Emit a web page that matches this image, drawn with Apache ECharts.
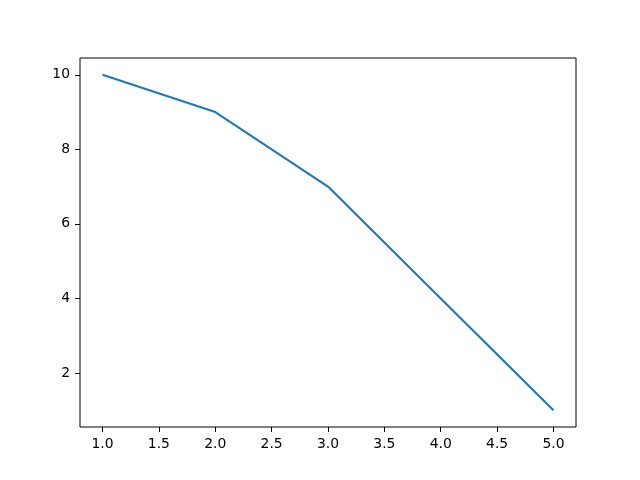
<!DOCTYPE html>
<html>
<head>
<meta charset="utf-8">
<script src="https://cdn.jsdelivr.net/npm/echarts@6/dist/echarts.min.js"></script>
<style>html,body{margin:0;padding:0;background:#fff;}#c{width:640px;height:480px;}</style>
</head>
<body>
<div id="c"></div>
<script>
const xValues = [1, 2, 3, 4, 5];
const yValues = [10, 9, 7, 4, 1];
const xTicks = [1.0, 1.5, 2.0, 2.5, 3.0, 3.5, 4.0, 4.5, 5.0];
const yTicks = [2, 4, 6, 8, 10];

const chart = echarts.init(document.getElementById('c'), null, {renderer: 'canvas'});
const font = 'DejaVu Sans';
chart.setOption({
  animation: false,
  backgroundColor: '#ffffff',
  grid: {left: 80, right: 64, top: 58, bottom: 53, show: true, borderColor: '#000', borderWidth: 1, backgroundColor: 'transparent'},
  xAxis: {
    type: 'value', min: 0.8, max: 5.2,
    axisLine: {show: false},
    splitLine: {show: false},
    axisTick: {show: true, inside: false, length: 5, lineStyle: {color: '#000', width: 1}, customValues: xTicks},
    axisLabel: {color: '#000', fontFamily: font, fontSize: 13.9, margin: 10, customValues: xTicks,
      formatter: v => Number(v).toFixed(1)}
  },
  yAxis: {
    type: 'value', min: 0.55, max: 10.45,
    axisLine: {show: false},
    splitLine: {show: false},
    axisTick: {show: true, inside: false, length: 5, lineStyle: {color: '#000', width: 1}, customValues: yTicks},
    axisLabel: {color: '#000', fontFamily: font, fontSize: 13.9, margin: 10, customValues: yTicks,
      formatter: v => String(Math.round(v))}
  },
  series: [{
    type: 'line',
    data: xValues.map((x, i) => [x, yValues[i]]),
    showSymbol: false,
    lineStyle: {color: '#1f77b4', width: 2.1},
    itemStyle: {color: '#1f77b4'}
  }]
});
</script>
</body>
</html>
